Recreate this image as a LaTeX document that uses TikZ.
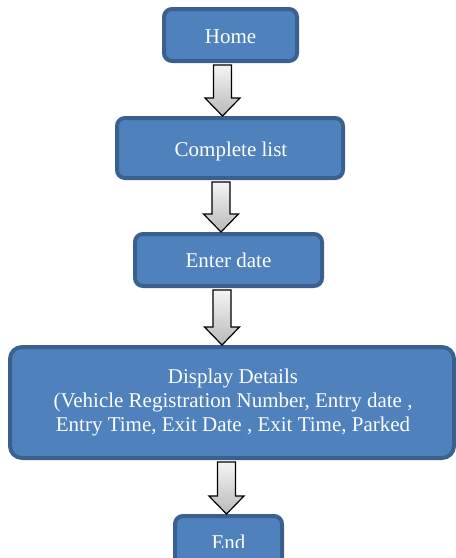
\documentclass[tikz,border=0pt]{standalone}
\usepackage{fontspec}
\setmainfont{Liberation Serif}
\usetikzlibrary{calc}
\definecolor{boxfill}{HTML}{4F81BD}
\definecolor{boxline}{HTML}{3A6090}
\tikzset{
  flowbox/.style={draw=boxline, line width=4pt, fill=boxfill, rounded corners=8pt,
    inner sep=0pt},
  boxtext/.style={text=white, font=\fontsize{21}{24}\selectfont, inner sep=0pt, align=center},
  arrowstyle/.style={draw=black, line width=1.2pt, line join=miter,
    top color=white!92!gray, bottom color=gray!55},
}
\newcommand{\blockarrow}[3]{%
  \shadedraw[arrowstyle] let \p1=(#1.south), \p2=(#2.north) in
   ({\x1+(#3)-9pt},{\y1-2pt}) -- ({\x1+(#3)+9pt},{\y1-2pt}) --
   ({\x1+(#3)+9pt},{\y2+18pt}) -- ({\x1+(#3)+17.5pt},{\y2+18pt}) --
   ({\x1+(#3)},{\y2}) -- ({\x1+(#3)-17.5pt},{\y2+18pt}) --
   ({\x1+(#3)-9pt},{\y2+18pt}) -- cycle;}
\begin{document}
\begin{tikzpicture}[x=1pt,y=-1pt]
\useasboundingbox (0,0) rectangle (456,558);
\clip (0,0) rectangle (456,558);
\node[flowbox, minimum width=133pt, minimum height=52pt] (home) at (230.5,35) {};
\node[boxtext, anchor=base] (hometext) at (230.5,43) {Home};
\node[flowbox, minimum width=226pt, minimum height=60pt] (list) at (230,148) {};
\node[boxtext, anchor=base] (listtext) at (231,156) {Complete list};
\node[flowbox, minimum width=187pt, minimum height=52pt] (date) at (228.5,260) {};
\node[boxtext, anchor=base] (datetext) at (228.5,267) {Enter date};
\node[flowbox, rounded corners=12pt, minimum width=444pt, minimum height=111pt] (disp) at (232,402.5) {};
\node[boxtext, anchor=north] (disptext) at (233,368.5)
  {Display Details\\(Vehicle Registration Number, Entry date ,\\Entry Time, Exit Date , Exit Time, Parked};
\node[flowbox, minimum width=107pt, minimum height=52pt] (endbox) at (228.5,542) {};
\begin{scope}
  \clip (0,0) rectangle (456,547);
  \node[boxtext, anchor=base] (endtext) at (228.5,549.5) {End};
\end{scope}
\blockarrow{home}{list}{-8pt}
\blockarrow{list}{date}{-9pt}
\blockarrow{date}{disp}{-6.5pt}
\blockarrow{disp}{endbox}{-5.5pt}
\end{tikzpicture}
\end{document}
